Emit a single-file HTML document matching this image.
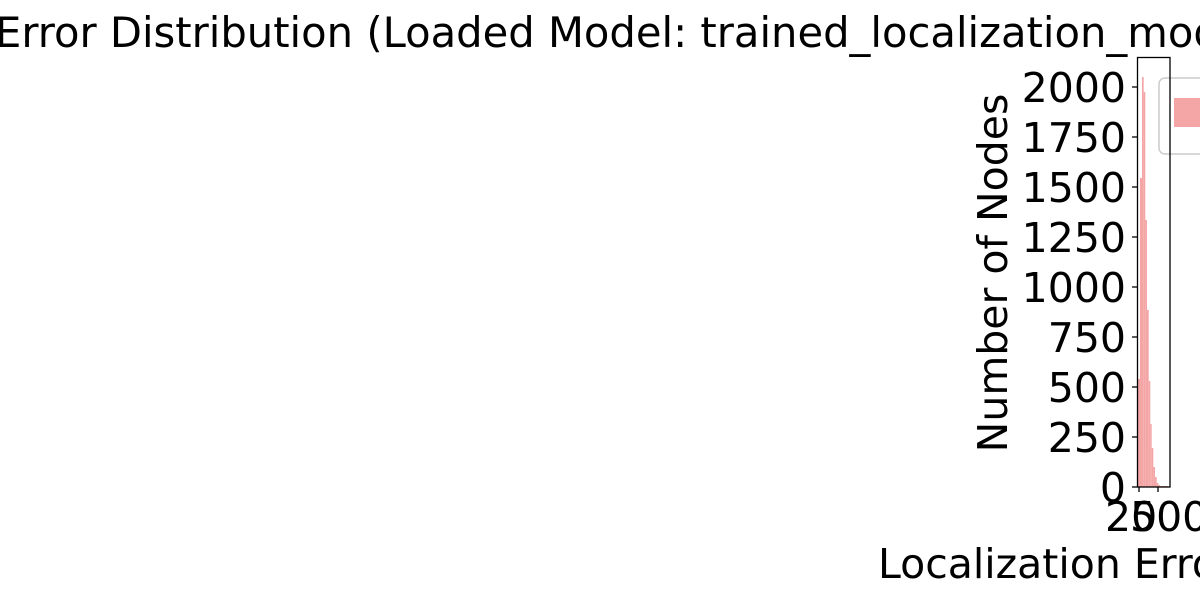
<!DOCTYPE html>
<html><head><meta charset="utf-8"><style>html,body{margin:0;padding:0;background:#fff;}svg{display:block}</style></head>
<body>
<svg width="1200" height="600" xmlns="http://www.w3.org/2000/svg" font-family="DejaVu Sans, Liberation Sans, sans-serif">
<rect width="1200" height="600" fill="#fff"/>
<text x="-5" y="47" font-size="41.7" fill="#000">Error Distribution (Loaded Model: trained_localization_model)</text>
<rect x="1159" y="78" width="60" height="76" rx="6" fill="#fff" stroke="#ccc" stroke-width="1.5"/>
<rect x="1174" y="98" width="40" height="29" fill="#f4a6a6"/>
<g fill="#f4a6a6">
<rect x="1137.7" y="379" width="3" height="108"/>
<rect x="1140" y="178" width="2" height="309"/>
<rect x="1142" y="77" width="1.7" height="410"/>
<rect x="1143.7" y="92" width="1.6" height="395"/>
<rect x="1145.3" y="220" width="1.7" height="267"/>
<rect x="1147" y="310" width="1.7" height="177"/>
<rect x="1148.7" y="381" width="1.6" height="106"/>
<rect x="1150.3" y="424" width="1.4" height="63"/>
<rect x="1151.7" y="448" width="1.6" height="39"/>
<rect x="1153.3" y="467" width="1.7" height="20"/>
<rect x="1155" y="477" width="1.7" height="10"/>
<rect x="1156.7" y="483" width="1.6" height="4"/>
<rect x="1158.3" y="485" width="1.7" height="2"/>
<rect x="1160" y="486" width="8" height="1"/>
</g>
<rect x="1137.5" y="57.5" width="32.5" height="429.5" fill="none" stroke="#000" stroke-width="1.3"/>
<g stroke="#000" stroke-width="1.3">
<line x1="1132" y1="487" x2="1137" y2="487"/><line x1="1132" y1="437" x2="1137" y2="437"/>
<line x1="1132" y1="387" x2="1137" y2="387"/><line x1="1132" y1="337" x2="1137" y2="337"/>
<line x1="1132" y1="287" x2="1137" y2="287"/><line x1="1132" y1="237" x2="1137" y2="237"/>
<line x1="1132" y1="187" x2="1137" y2="187"/><line x1="1132" y1="137" x2="1137" y2="137"/>
<line x1="1132" y1="87" x2="1137" y2="87"/>
<line x1="1139" y1="487" x2="1139" y2="492"/><line x1="1158" y1="487" x2="1158" y2="492"/>
</g>
<g font-size="41" text-anchor="end" fill="#000">
<text x="1126" y="502">0</text><text x="1126" y="452">250</text><text x="1126" y="402">500</text>
<text x="1126" y="352">750</text><text x="1126" y="302">1000</text><text x="1126" y="252">1250</text>
<text x="1126" y="202">1500</text><text x="1126" y="152">1750</text><text x="1126" y="102">2000</text>
</g>
<text x="1105" y="531" font-size="41">20</text>
<text x="1130" y="531" font-size="41">500</text>
<text x="878" y="578" font-size="41">Localization Error</text>
<text transform="translate(1007,273) rotate(-90)" text-anchor="middle" font-size="41">Number of Nodes</text>
</svg>
</body></html>
